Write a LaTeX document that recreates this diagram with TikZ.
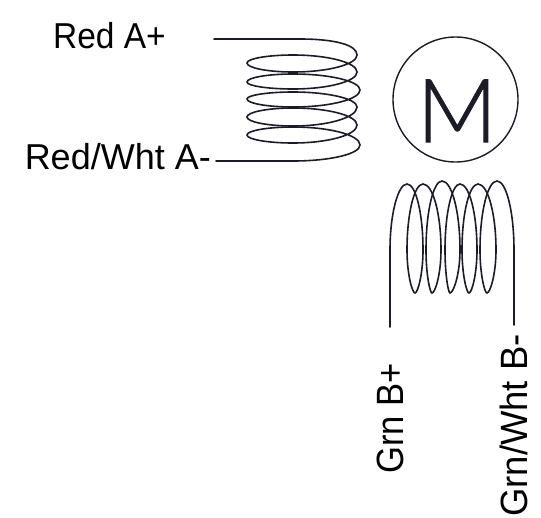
\documentclass[tikz,border=0pt]{standalone}
\usepackage{fontspec}
\setmainfont{Liberation Sans}
\newfontfamily\narrowfont[FakeStretch=0.93]{Liberation Sans}
\newfontfamily\grnfont[FakeStretch=0.91]{Liberation Sans}
\newfontfamily\tightfont[FakeStretch=0.96]{Liberation Sans}
\newfontfamily\motorfont[UprightFont=* Light,FakeBold=1.2]{Lato}
\definecolor{coilink}{HTML}{1C1C28}
\tikzset{
  wirelabel/.style={inner sep=0pt,font=\fontsize{#1}{#1}\selectfont},
  coilline/.style={draw=coilink,line width=1.6pt,line cap=round},
}
\begin{document}
\begin{tikzpicture}[x=1pt,y=-1pt]
  \useasboundingbox (0,0) rectangle (541,517);

  % labels
  \node [wirelabel=36,anchor=base west] (redp) at (53,48) {\narrowfont Red A+};
  \node [wirelabel=36,anchor=base east] (redm) at (211,169) {Red/Wht A-};
  \node [wirelabel=38,anchor=base west,rotate=90] (grnp) at (403,474) {\grnfont Grn B+};
  \node [wirelabel=38,anchor=base west,rotate=90] (grnm) at (527,517) {\tightfont Grn/Wht B-};

  % motor
  \node [circle,draw=coilink,line width=1.4pt,minimum size=125pt,inner sep=0pt] (motor) at (455.5,99.5) {};
  \node [inner sep=0pt,anchor=base,text=coilink,font=\motorfont\fontsize{88}{88}\selectfont] (motorm) at (457,142) {M};

  % free ends
  \coordinate (aplus) at (214,39);
  \coordinate (aminus) at (216,161);
  \coordinate (bplus) at (390,327);
  \coordinate (bminus) at (514,325);

  % coil A
  \draw [coilline] (aplus) -- (300,39) .. controls (335,39) and (357,45) .. (357,55);
  \foreach \xa/\ya/\yb/\yl/\yt/\xc/\yc in {
      357/55/72/63/55/357/72,
      357/72/89/82/74/360/90,
      360/90/107/99/92/357/107,
      357/107/126/117/108/357/125,
      357/125/143/135/127/360/145}
    \draw [coilline] (\xa,\ya) .. controls (\xa,{\ya+.55*(\yb-\ya)}) and ({293+.55*(\xa-293)},\yb) .. (293,\yb)
      .. controls (268,\yb) and (247,{\yl+.55*(\yb-\yl)}) .. (247,\yl)
      .. controls (247,{\yl-.55*(\yl-\yt)}) and (268,\yt) .. (293,\yt)
      .. controls ({293+.55*(\xc-293)},\yt) and (\xc,{\yc-.55*(\yc-\yt)}) .. (\xc,\yc);
  \draw [coilline] (360,145) .. controls (360,154) and (330,161) .. (293,161) -- (aminus);

  % coil B
  \draw [coilline] (bplus) -- (390,250) .. controls (390,214) and (398,184) .. (407,184)
    .. controls (416,184) and (423,214) .. (423,250);
  \foreach \xa/\xb/\xl/\xt/\yt/\xc in {
      423/415/407/423/184/441,
      441/432/426/442/181/460,
      460/450/445/460/184/477,
      477/469/462/478/184/496,
      496/487/480/497/181/514}
    \draw [coilline] (\xa,250) .. controls (\xa,274) and ({\xb+.35*(\xa-\xb)},293) .. (\xb,293)
      .. controls ({\xb-.35*(\xb-\xl)},293) and (\xl,274) .. (\xl,250)
      .. controls (\xl,{250-.55*(250-\yt)}) and ({\xt-.55*(\xt-\xl)},\yt) .. (\xt,\yt)
      .. controls ({\xt+.55*(\xc-\xt)},\yt) and (\xc,{250-.55*(250-\yt)}) .. (\xc,250);
  \draw [coilline] (514,250) -- (bminus);
\end{tikzpicture}
\end{document}
